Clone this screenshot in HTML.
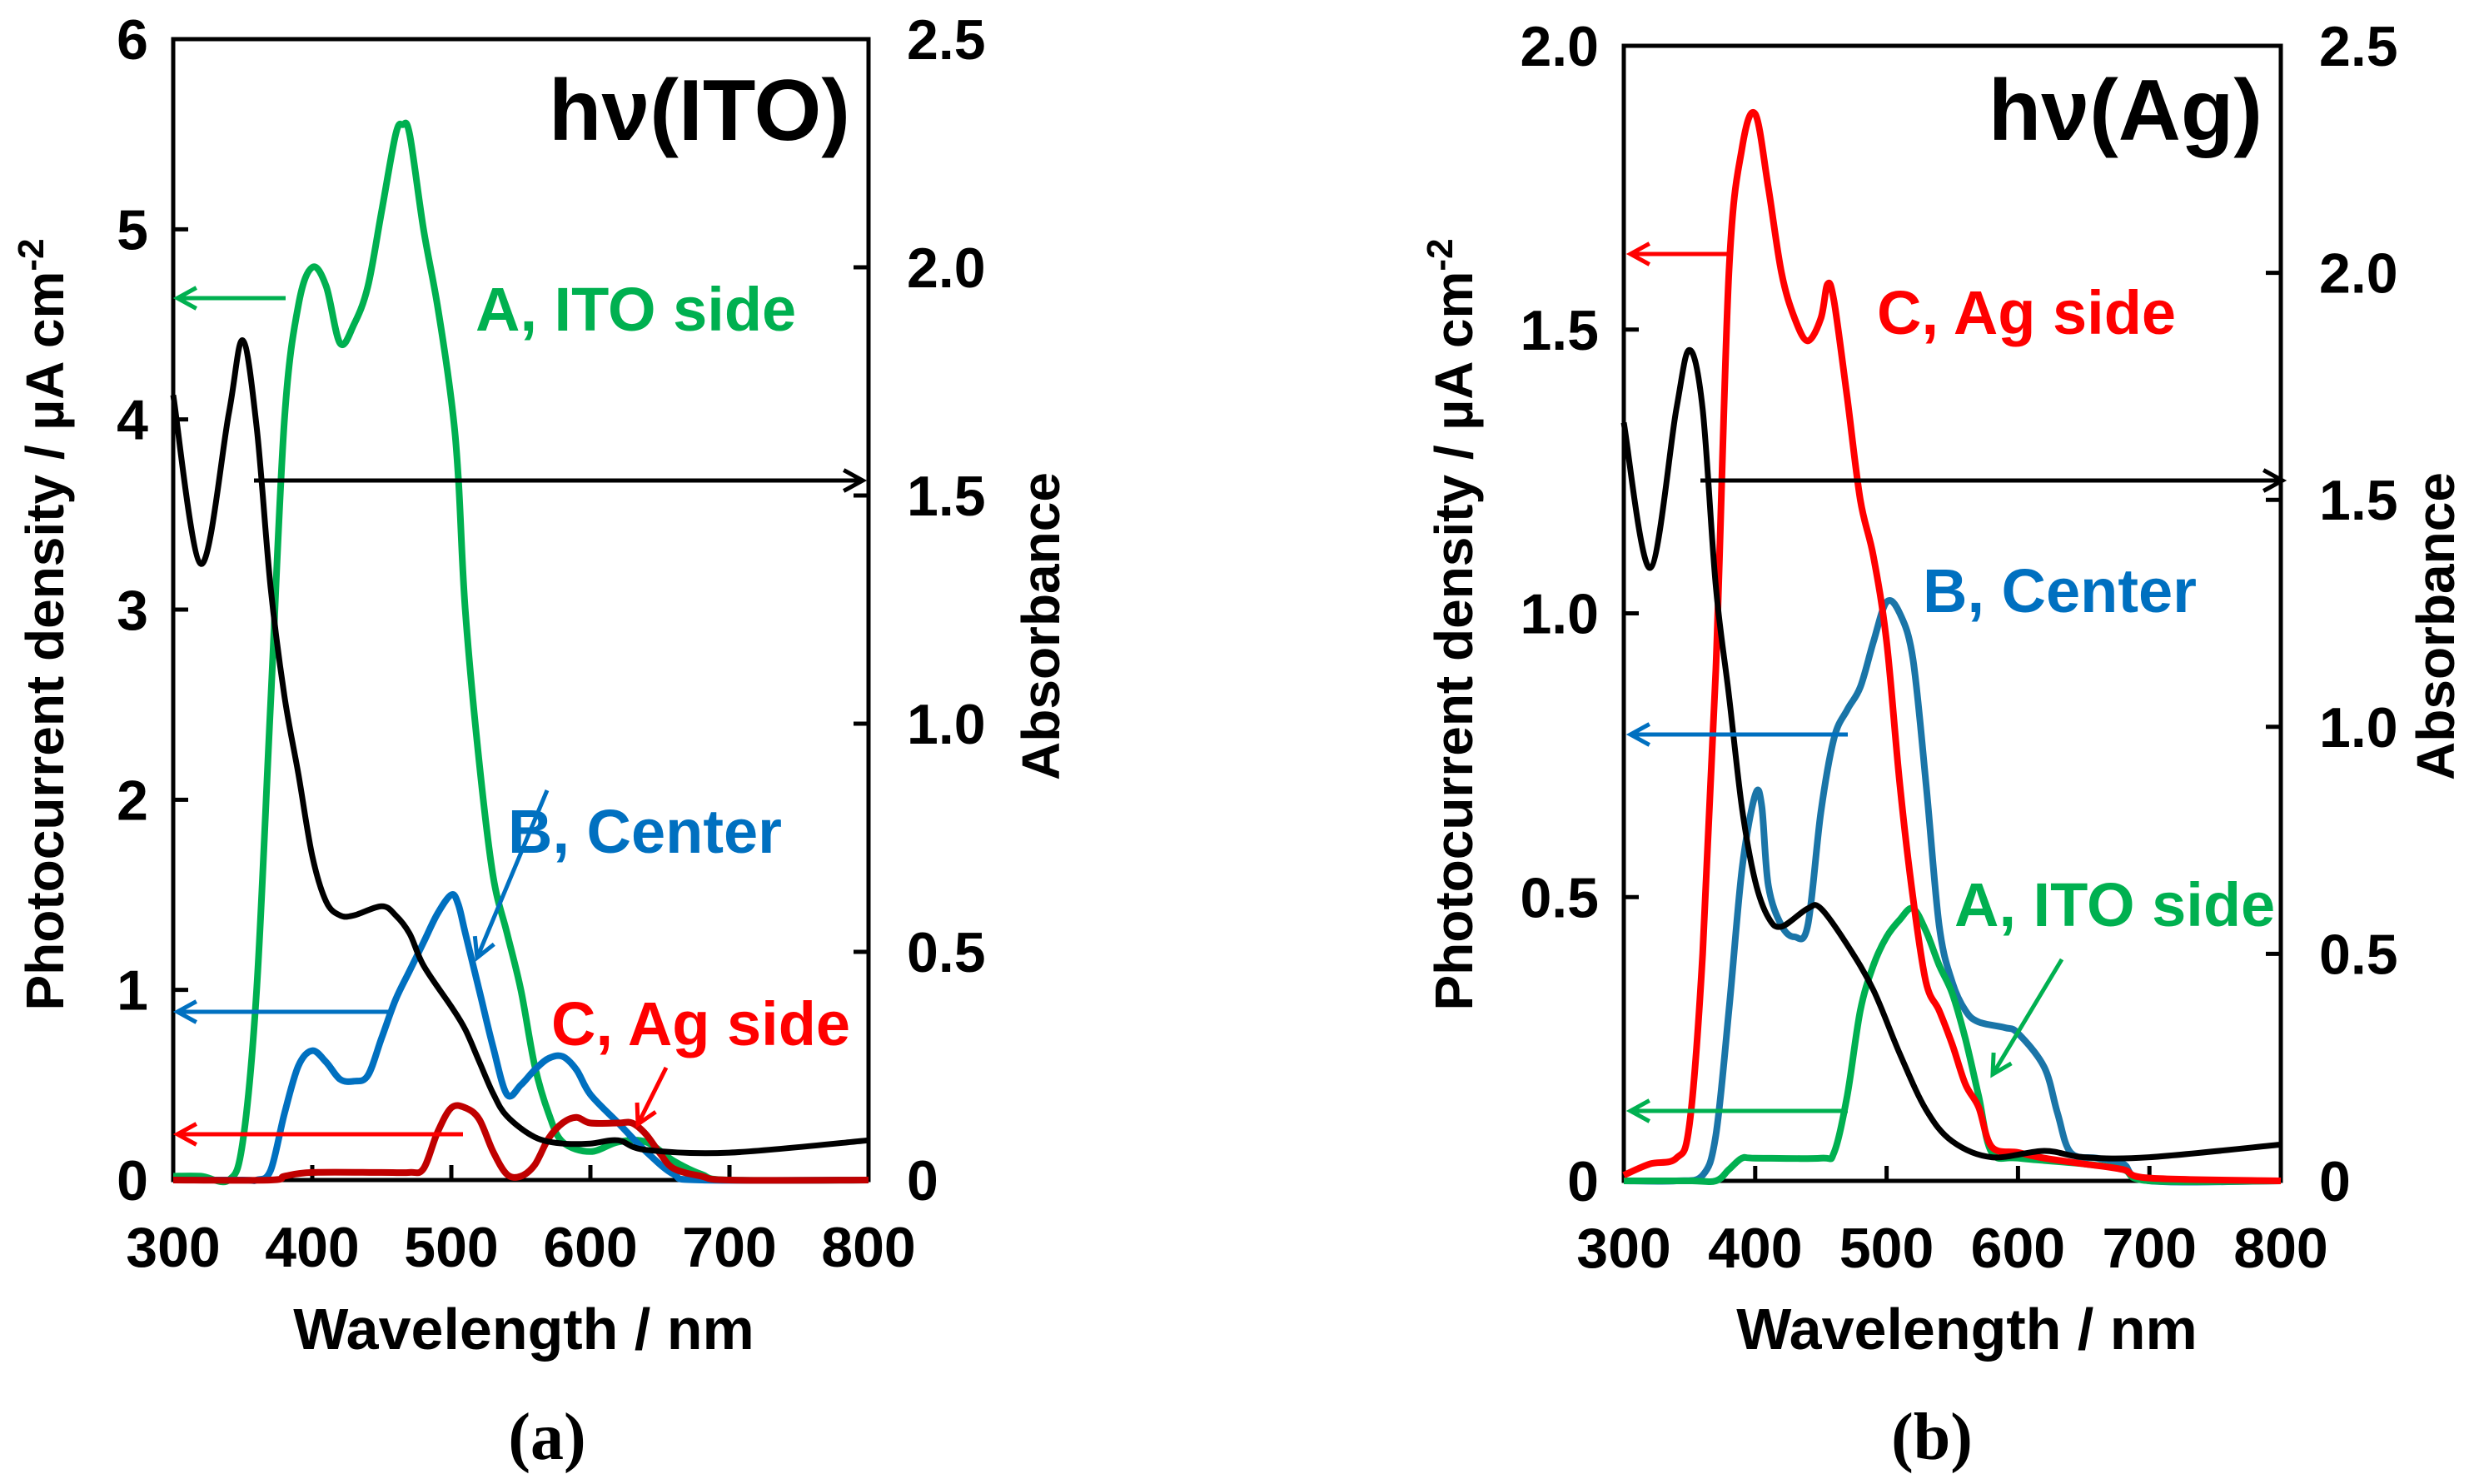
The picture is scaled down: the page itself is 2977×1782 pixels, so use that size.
<!DOCTYPE html>
<html><head><meta charset="utf-8">
<style>
html,body{margin:0;padding:0;background:#fff}
svg{display:block}
text{font-family:"Liberation Sans",Arial,sans-serif;font-weight:bold}
</style></head>
<body>
<svg id="fig" width="2977" height="1782" viewBox="0 0 2977 1782" xmlns="http://www.w3.org/2000/svg">
</svg>
<script>
// ---------- Panel (a) data ----------
const aGreenWl = [300,320,340,350,360,370,380,390,400,410,420,430,440,450,460,465,470,480,490,500,505,510,520,530,540,550,560,570,580,600,620,640,660,680,700,800];
const aGreenVal = [0.02,0.02,0,0.2,1.0,2.5,4.0,4.6,4.8,4.7,4.4,4.5,4.7,5.1,5.5,5.55,5.5,5.0,4.6,4.1,3.7,3.0,2.2,1.6,1.3,1.0,0.6,0.35,0.2,0.15,0.2,0.2,0.1,0.03,0,0];
const aBlueWl = [300,350,360,370,380,390,400,410,420,430,440,450,460,470,480,490,500,505,510,520,530,540,550,560,570,580,590,600,620,640,660,680,800];
const aBlueVal = [0,0,0,0.05,0.35,0.6,0.68,0.62,0.53,0.52,0.55,0.75,0.95,1.1,1.25,1.4,1.5,1.45,1.3,1.0,0.7,0.45,0.5,0.58,0.64,0.65,0.58,0.45,0.3,0.15,0.03,0,0];
const aRedWl = [300,370,380,400,450,470,480,490,500,510,520,530,540,550,560,570,580,590,600,620,630,640,650,660,680,700,800];
const aRedVal = [0,0,0.02,0.04,0.04,0.04,0.06,0.25,0.38,0.38,0.32,0.15,0.03,0.02,0.08,0.22,0.3,0.33,0.3,0.3,0.3,0.24,0.14,0.06,0.02,0,0];
const aAbsWl = [300,320,340,350,360,370,380,390,400,410,420,430,450,460,470,480,500,510,520,530,540,560,580,600,620,640,700,800];
const aAbsVal = [1.72,1.35,1.68,1.84,1.65,1.30,1.06,0.89,0.71,0.61,0.58,0.58,0.60,0.58,0.54,0.47,0.38,0.33,0.26,0.19,0.14,0.094,0.08,0.08,0.087,0.066,0.06,0.087];
const aLeftTicks = ["0","1","2","3","4","5","6"];
const aRightTicks = ["0","0.5","1.0","1.5","2.0","2.5"];
// ---------- Panel (b) data ----------
const bRedWl = [300,320,340,350,360,370,380,390,400,410,420,430,440,450,455,460,470,480,490,500,510,520,530,540,550,560,570,580,600,620,650,680,700,800];
const bRedVal = [0.01,0.03,0.04,0.1,0.4,0.9,1.6,1.82,1.88,1.75,1.6,1.52,1.48,1.52,1.58,1.55,1.38,1.2,1.1,0.95,0.7,0.5,0.35,0.3,0.24,0.17,0.13,0.06,0.05,0.04,0.03,0.02,0.005,0];
const bBlueWl = [300,340,360,370,380,390,400,405,410,420,430,440,450,460,470,480,490,500,510,520,530,540,550,560,570,590,600,620,630,640,660,680,700,800];
const bBlueVal = [0,0,0.01,0.08,0.3,0.55,0.68,0.66,0.52,0.45,0.43,0.45,0.65,0.78,0.83,0.87,0.95,1.02,1.0,0.92,0.7,0.45,0.35,0.3,0.28,0.27,0.26,0.2,0.12,0.05,0.04,0.03,0,0];
const bGreenWl = [300,350,370,380,390,400,450,460,470,480,490,500,510,520,530,540,550,560,570,580,600,650,680,700,800];
const bGreenVal = [0,0,0,0.02,0.04,0.04,0.04,0.05,0.15,0.3,0.38,0.43,0.46,0.48,0.44,0.38,0.33,0.25,0.15,0.05,0.04,0.03,0.02,0,0];
const bAbsWl = [300,320,340,350,360,370,380,390,400,410,420,440,450,470,490,510,530,550,580,620,650,700,800];
const bAbsVal = [1.67,1.35,1.70,1.83,1.70,1.31,1.07,0.82,0.66,0.58,0.56,0.60,0.60,0.52,0.42,0.28,0.157,0.087,0.052,0.066,0.052,0.052,0.08];
const bLeftTicks = ["0","0.5","1.0","1.5","2.0"];
const bRightTicks = ["0","0.5","1.0","1.5","2.0","2.5"];
const xTicks = [300,400,500,600,700,800];

const NS = "http://www.w3.org/2000/svg";
const svg = document.getElementById('fig');
function mk(tag, attrs, parent){ const e=document.createElementNS(NS,tag); for(const k in attrs) e.setAttribute(k,attrs[k]); (parent||svg).appendChild(e); return e; }
function smooth(pts){
  let d = "M"+pts[0][0].toFixed(1)+","+pts[0][1].toFixed(1);
  for(let i=0;i<pts.length-1;i++){
    const p0=pts[Math.max(0,i-1)], p1=pts[i], p2=pts[i+1], p3=pts[Math.min(pts.length-1,i+2)];
    const c1=[p1[0]+(p2[0]-p0[0])/6, p1[1]+(p2[1]-p0[1])/6];
    const c2=[p2[0]-(p3[0]-p1[0])/6, p2[1]-(p3[1]-p1[1])/6];
    d+=" C"+c1[0].toFixed(1)+","+c1[1].toFixed(1)+" "+c2[0].toFixed(1)+","+c2[1].toFixed(1)+" "+p2[0].toFixed(1)+","+p2[1].toFixed(1);
  }
  return d;
}
function txt(s, x, y, size, anchor, fill, parent){ const t=mk('text',{x:x,y:y,'font-size':size,'text-anchor':anchor||'middle',fill:fill||'#000'},parent); t.textContent=s; return t; }

function arrow(a, g){
  const [x1,y1,x2,y2,c] = a;
  const ang = Math.atan2(y2-y1, x2-x1), L = 26, s = 0.5;
  const hx1 = x2 - L*Math.cos(ang-s), hy1 = y2 - L*Math.sin(ang-s);
  const hx2 = x2 - L*Math.cos(ang+s), hy2 = y2 - L*Math.sin(ang+s);
  const p = mk('path',{d:`M${x1},${y1} L${x2},${y2} M${hx1.toFixed(1)},${hy1.toFixed(1)} L${x2},${y2} L${hx2.toFixed(1)},${hy2.toFixed(1)}`,fill:'none',stroke:c,'stroke-width':5,'stroke-linejoin':'miter'},g);
  
  
}

function panel(P){
  const g = mk('g',{});
  
  
  const X = w => P.L + (w-300)/500*(P.R-P.L);
  const YL = v => P.B - v/P.lmax*(P.B-P.T);
  const YR = v => P.B - v/2.5*(P.B-P.T);
  const frame = mk('rect',{x:P.L,y:P.T,width:P.R-P.L,height:P.B-P.T,fill:'none',stroke:'#000','stroke-width':5},g);
  
  
  xTicks.forEach(w=>{
    mk('line',{x1:X(w),y1:P.B,x2:X(w),y2:P.B-18,stroke:'#000','stroke-width':5},g);
    const t = txt(String(w), X(w), P.B+104, 68, 'middle', '#000', g);
    
    
  });
  P.lt.forEach((s,i)=>{
    const v = i*P.lstep, y=YL(v);
    mk('line',{x1:P.L,y1:y,x2:P.L+18,y2:y,stroke:'#000','stroke-width':5},g);
    const t = txt(s, P.L-30, y+24, 68, 'end', '#000', g);
    
    
  });
  P.rt.forEach((s,i)=>{
    const v = i*0.5, y=YR(v);
    mk('line',{x1:P.R,y1:y,x2:P.R-18,y2:y,stroke:'#000','stroke-width':5},g);
    const t = txt(s, P.R+46, y+24, 68, 'start', '#000', g);
    
    
  });
  const series = [
    [P.g1w,P.g1v,P.c1,YL,P.n1],[P.g2w,P.g2v,P.c2,YL,P.n2],[P.g3w,P.g3v,P.c3,YL,P.n3],[P.aw,P.av,'#000',YR,'absorbance-line']
  ];
  series.forEach(s=>{
    const pts = s[0].map((w,i)=>[X(w), s[3](s[1][i])]);
    const p = mk('path',{d:smooth(pts),fill:'none',stroke:s[2],'stroke-width':s[2]=='#000'?7:8,'stroke-linejoin':'round'},g);
    
    
  });
  P.arrows.forEach(a=>arrow(a,g));
  P.labels.forEach(a=>{
    const t = txt(a[0], a[1], a[2], 74, 'start', a[3], g);
    
    
  });
  const ti = txt(P.title, P.R-22, 168, 104, 'end', '#000', g);
  
  
  const yt = txt('Photocurrent density / \u00b5A cm', 0, 0, 64, 'middle', '#000', g);
  const sup = mk('tspan',{'font-size':44,dy:-24},yt); sup.textContent='-2';
  yt.setAttribute('transform','translate('+P.ytx+',750) rotate(-90)');
  
  
  const at = txt('Absorbance', 0, 0, 64, 'middle', '#000', g);
  at.setAttribute('transform','translate('+P.atx+',752) rotate(-90)');
  
  
  const xt = txt('Wavelength / nm', P.xtc, 1620, 70, 'middle', '#000', g);
  
  
  const cap = mk('text',{x:P.capx,y:1752,'font-size':80,'text-anchor':'middle',style:'font-family:"Liberation Serif",serif;font-weight:bold'},g);
  cap.textContent = P.cap;
  
  
}

panel({name:'panel-a',L:208,R:1043,T:47,B:1417,lmax:6,lstep:1,lt:aLeftTicks,rt:aRightTicks,
  g1w:aGreenWl,g1v:aGreenVal,c1:'#00b050',n1:'ito-side-line',
  g2w:aBlueWl,g2v:aBlueVal,c2:'#0070c0',n2:'center-line',
  g3w:aRedWl,g3v:aRedVal,c3:'#c00000',n3:'ag-side-line',
  aw:aAbsWl,av:aAbsVal,
  arrows:[[343,358,213,358,'#00b050'],[472,1215,213,1215,'#0070c0'],[556,1362,213,1362,'#ff0000'],[305,577,1036,577,'#000'],[657,949,573,1150,'#0070c0'],[800,1282,766,1350,'#ff0000']],
  labels:[['A, ITO side',571,397,'#00b050'],['B, Center',610,1024,'#0070c0'],['C, Ag side',662,1255,'#ff0000']],
  title:'h\u03bd(ITO)',ytx:76,atx:1272,xtc:629,capx:657,cap:'(a)'});

panel({name:'panel-b',L:1950,R:2739,T:55,B:1418,lmax:2,lstep:0.5,lt:bLeftTicks,rt:bRightTicks,
  g1w:bBlueWl,g1v:bBlueVal,c1:'#1a75a8',n1:'center-line',
  g2w:bGreenWl,g2v:bGreenVal,c2:'#00b050',n2:'ito-side-line',
  g3w:bRedWl,g3v:bRedVal,c3:'#ff0000',n3:'ag-side-line',
  aw:bAbsWl,av:bAbsVal,
  arrows:[[2076,305,1958,305,'#ff0000'],[2219,882,1958,882,'#0070c0'],[2219,1334,1958,1334,'#00b050'],[2042,577,2741,577,'#000'],[2476,1152,2393,1290,'#00b050']],
  labels:[['C, Ag side',2254,401,'#ff0000'],['B, Center',2309,735,'#0070c0'],['A, ITO side',2347,1112,'#00b050']],
  title:'h\u03bd(Ag)',ytx:1768,atx:2947,xtc:2362,capx:2320,cap:'(b)'});
</script>
</body></html>
